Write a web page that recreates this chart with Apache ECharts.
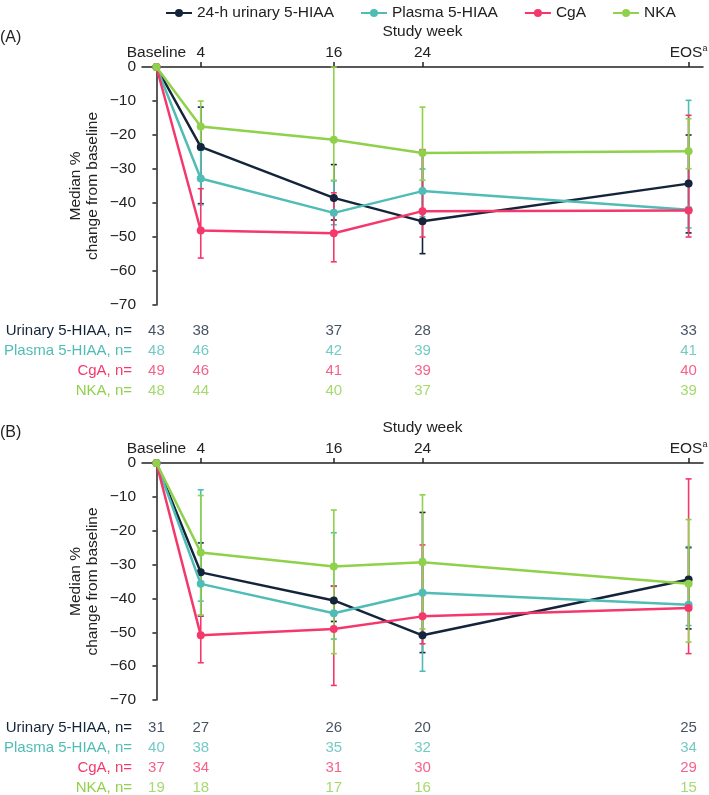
<!DOCTYPE html>
<html>
<head>
<meta charset="utf-8">
<script src="https://cdn.jsdelivr.net/npm/echarts@6/dist/echarts.min.js"></script>
<style>
  html, body { margin: 0; padding: 0; background: #fff; }
  #main { width: 709px; height: 795px; }
</style>
</head>
<body>
<div id="main"></div>
<script>
// x positions of the visits (EOS placed after week 24)
var weeks = [0, 4, 16, 24, 48];
var tickWeeks = [0, 4, 16, 24, 48];
var tickNames = ['Baseline', '4', '16', '24', 'EOS'];
var seriesNames = ['24-h urinary 5-HIAA', 'Plasma 5-HIAA', 'CgA', 'NKA'];
var rowNames = ['Urinary 5-HIAA, n=', 'Plasma 5-HIAA, n=', 'CgA, n=', 'NKA, n='];
var colors = ['#14243a', '#4fbdb6', '#f5386c', '#8fd14a'];

// (A) medians
var urinaryA = [0, -23.5, -38.5, -45.4, -34.3];
var plasmaA = [0, -32.8, -42.9, -36.5, -42.0];
var cgaA = [0, -48.1, -48.9, -42.4, -42.2];
var nkaA = [0, -17.5, -21.4, -25.3, -24.8];
// (A) error bars at week 4, 16, 24, EOS
var urinaryAHi = [-11.8, -28.7, -24.5, -20.0];
var urinaryALo = [-40.2, -45.0, -54.9, -48.8];
var plasmaAHi = [-24.5, -33.5, -30.0, -9.8];
var plasmaALo = [-40.5, -46.4, -44.0, -47.3];
var cgaAHi = [-35.8, -37.0, -24.3, -14.2];
var cgaALo = [-56.2, -57.3, -50.0, -50.0];
var nkaAHi = [-10.0, 0, -11.8, -15.2];
var nkaALo = [-24.2, -33.3, -33.3, -29.9];

// (B) medians
var urinaryB = [0, -32.3, -40.6, -50.9, -34.4];
var plasmaB = [0, -35.7, -44.4, -38.3, -41.9];
var cgaB = [0, -50.9, -49.0, -45.3, -42.8];
var nkaB = [0, -26.4, -30.6, -29.3, -35.7];
// (B) error bars
var urinaryBHi = [-23.6, -36.4, -14.6, -25.0];
var urinaryBLo = [-45.2, -46.8, -56.0, -49.0];
var plasmaBHi = [-7.9, -20.6, -28.4, -24.7];
var plasmaBLo = [-40.8, -52.0, -61.5, -48.0];
var cgaBHi = [-45.0, -36.4, -24.2, -4.7];
var cgaBLo = [-59.0, -65.7, -53.4, -56.3];
var nkaBHi = [-9.6, -13.9, -9.4, -16.7];
var nkaBLo = [-45.0, -56.3, -49.0, -52.9];

// patient counts
var nUrinaryA = [43, 38, 37, 28, 33];
var nPlasmaA = [48, 46, 42, 39, 41];
var nCgaA = [49, 46, 41, 39, 40];
var nNkaA = [48, 44, 40, 37, 39];
var nUrinaryB = [31, 27, 26, 20, 25];
var nPlasmaB = [40, 38, 35, 32, 34];
var nCgaB = [37, 34, 31, 30, 29];
var nNkaB = [19, 18, 17, 16, 15];

var font = 'Liberation Sans, Arial, sans-serif';
var fs = 15.5;
var tfs = 15;
var xMin = -1.3, xMax = 49.3;

function errData(hi, lo) {
	var out = [];
	for (var i = 0; i < hi.length; i++) {
		out.push([weeks[i + 1], lo[i], hi[i]]);
	}
	return out;
}

function renderErr(params, api) {
	var x = api.value(0);
	var top = api.coord([x, api.value(2)]);
	var bot = api.coord([x, api.value(1)]);
	var st = { stroke: api.visual('color'), lineWidth: 1.6 };
	return {
		type: 'group',
		children: [
			{ type: 'line', shape: { x1: top[0], y1: top[1], x2: bot[0], y2: bot[1] }, style: st },
			{ type: 'line', shape: { x1: top[0] - 3, y1: top[1], x2: top[0] + 3, y2: top[1] }, style: st },
			{ type: 'line', shape: { x1: bot[0] - 3, y1: bot[1], x2: bot[0] + 3, y2: bot[1] }, style: st }
		]
	};
}

function pairs(vals) {
	return weeks.map(function (w, i) { return [w, vals[i]]; });
}

var mainX = function (idx) {
	return {
		type: 'value', gridIndex: idx, position: 'top', min: xMin, max: xMax,
		name: 'Study week', nameLocation: 'middle', nameGap: 27,
		nameTextStyle: { fontFamily: font, fontSize: fs, color: '#222' },
		splitLine: { show: false },
		axisLine: { onZero: false, lineStyle: { color: '#222', width: 1.5 } },
		axisTick: { show: true, length: 5, customValues: [4, 16, 24, 48], lineStyle: { color: '#222', width: 1.5 } },
		axisLabel: {
			customValues: tickWeeks, margin: 6,
			fontFamily: font, fontSize: fs, color: '#222',
			formatter: function (v) {
				var name = tickNames[tickWeeks.indexOf(v)];
				return name === 'EOS' ? 'EOS{sup|a}' : name;
			},
			rich: { sup: { fontSize: 9, verticalAlign: 'top', padding: [0, 0, 8, 0], fontFamily: font, color: '#222' } }
		}
	};
};

var mainY = function (idx) {
	return {
		type: 'value', gridIndex: idx, min: -70, max: 0, interval: 10,
		name: 'Median %\nchange from baseline', nameLocation: 'middle', nameGap: 41,
		nameMoveOverlap: false,
		nameTextStyle: { fontFamily: font, fontSize: fs, color: '#222', lineHeight: 17 },
		splitLine: { show: false },
		axisLine: { show: true, lineStyle: { color: '#222', width: 1.5 } },
		axisTick: { show: true, length: 4, lineStyle: { color: '#222', width: 1.5 } },
		axisLabel: {
			fontFamily: font, fontSize: fs, color: '#222', margin: 6,
			formatter: function (v) { return v === 0 ? '0' : '\u2212' + Math.abs(v); }
		}
	};
};

var tableX = function (idx) {
	return { type: 'value', gridIndex: idx, min: xMin, max: xMax, show: false };
};
var tableY = function (idx) {
	return {
		type: 'category', gridIndex: idx, data: rowNames, inverse: true,
		axisLine: { show: false }, axisTick: { show: false },
		axisLabel: {
			interval: 0, margin: 10, fontFamily: font, fontSize: tfs,
			formatter: function (v) { return '{r' + rowNames.indexOf(v) + '|' + v + '}'; },
			rich: {
				r0: { color: colors[0], fontFamily: font, fontSize: tfs },
				r1: { color: colors[1], fontFamily: font, fontSize: tfs },
				r2: { color: colors[2], fontFamily: font, fontSize: tfs },
				r3: { color: colors[3], fontFamily: font, fontSize: tfs }
			}
		}
	};
};

var series = [];
function addPanel(gi, meds, his, los, counts, tgi) {
	for (var k = 0; k < 4; k++) {
		series.push({
			type: 'line', name: seriesNames[k], xAxisIndex: gi, yAxisIndex: gi,
			data: pairs(meds[k]), symbol: 'circle', symbolSize: 8,
			lineStyle: { width: 2.5, color: colors[k] }, itemStyle: { color: colors[k] }, z: 3 + k
		});
	}
	for (var k = 0; k < 4; k++) {
		series.push({
			type: 'custom', name: seriesNames[k], xAxisIndex: gi, yAxisIndex: gi,
			renderItem: renderErr, data: errData(his[k], los[k]),
			itemStyle: { color: colors[k] }, z: 1, silent: true
		});
	}
	for (var k = 0; k < 4; k++) {
		series.push({
			type: 'scatter', xAxisIndex: tgi, yAxisIndex: tgi, symbolSize: 0,
			data: weeks.map(function (w, i) { return [w, k, counts[k][i]]; }),
			label: {
				show: true, position: 'inside', fontFamily: font, fontSize: tfs, color: colors[k],
				formatter: function (p) { return p.value[2]; }
			}
		});
	}
}

addPanel(0, [urinaryA, plasmaA, cgaA, nkaA],
	[urinaryAHi, plasmaAHi, cgaAHi, nkaAHi], [urinaryALo, plasmaALo, cgaALo, nkaALo],
	[nUrinaryA, nPlasmaA, nCgaA, nNkaA], 2);
addPanel(1, [urinaryB, plasmaB, cgaB, nkaB],
	[urinaryBHi, plasmaBHi, cgaBHi, nkaBHi], [urinaryBLo, plasmaBLo, cgaBLo, nkaBLo],
	[nUrinaryB, nPlasmaB, nCgaB, nNkaB], 3);

var myChart = echarts.init(document.getElementById('main'));
myChart.setOption({
	animation: false,
	backgroundColor: '#fff',
	legend: {
		data: seriesNames, top: 0, left: 160,
		itemWidth: 26, itemHeight: 10, itemGap: 26,
		textStyle: { fontFamily: font, fontSize: fs, color: '#222' }
	},
	graphic: [
		{ type: 'text', left: 0, top: 30, style: { text: '(A)', font: '16px ' + font, fill: '#222' } },
		{ type: 'text', left: 0, top: 425, style: { text: '(B)', font: '16px ' + font, fill: '#222' } }
	],
	grid: [
		{ left: 142, right: 6, top: 67, height: 238, outerBoundsMode: 'none' },
		{ left: 142, right: 6, top: 463, height: 237, outerBoundsMode: 'none' },
		{ left: 142, right: 6, top: 321, height: 80, outerBoundsMode: 'none' },
		{ left: 142, right: 6, top: 718, height: 80, outerBoundsMode: 'none' }
	],
	xAxis: [mainX(0), mainX(1), tableX(2), tableX(3)],
	yAxis: [mainY(0), mainY(1), tableY(2), tableY(3)],
	series: series
});
</script>
</body>
</html>
